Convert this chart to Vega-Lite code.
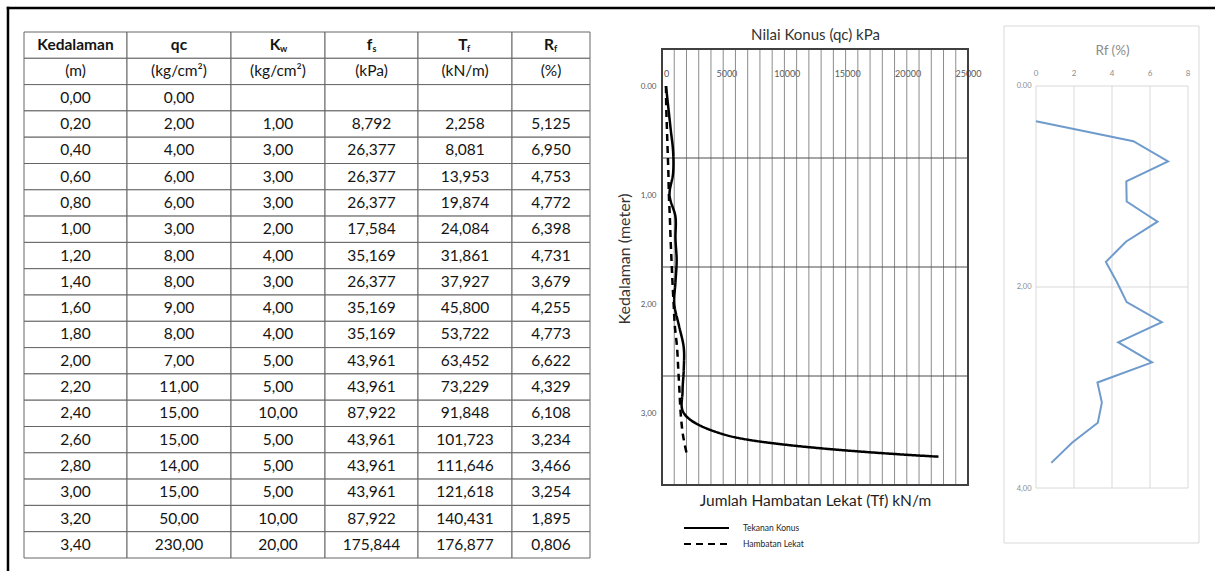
{
"$schema": "https://vega.github.io/schema/vega-lite/v6.json",
"padding": {"left": 5, "top": 5, "right": 0, "bottom": 0},
"background": "white",
"config": {"view": {"stroke": null}, "font": "Lato", "axis": {"labelFont": "Lato", "titleFont": "Lato"}, "legend": {"labelFont": "Lato"}},
"datasets": {
"tbl": [
{"r":0,"a":"Kedalaman","b":"qc","c":"K","d":"f","e":"T","f":"R"},
{"r":1,"a":"(m)","b":"(kg/cm²)","c":"(kg/cm²)","d":"(kPa)","e":"(kN/m)","f":"(%)"},
{"r":2,"a":"0,00","b":"0,00","c":"","d":"","e":"","f":""},
{"r":3,"a":"0,20","b":"2,00","c":"1,00","d":"8,792","e":"2,258","f":"5,125"},
{"r":4,"a":"0,40","b":"4,00","c":"3,00","d":"26,377","e":"8,081","f":"6,950"},
{"r":5,"a":"0,60","b":"6,00","c":"3,00","d":"26,377","e":"13,953","f":"4,753"},
{"r":6,"a":"0,80","b":"6,00","c":"3,00","d":"26,377","e":"19,874","f":"4,772"},
{"r":7,"a":"1,00","b":"3,00","c":"2,00","d":"17,584","e":"24,084","f":"6,398"},
{"r":8,"a":"1,20","b":"8,00","c":"4,00","d":"35,169","e":"31,861","f":"4,731"},
{"r":9,"a":"1,40","b":"8,00","c":"3,00","d":"26,377","e":"37,927","f":"3,679"},
{"r":10,"a":"1,60","b":"9,00","c":"4,00","d":"35,169","e":"45,800","f":"4,255"},
{"r":11,"a":"1,80","b":"8,00","c":"4,00","d":"35,169","e":"53,722","f":"4,773"},
{"r":12,"a":"2,00","b":"7,00","c":"5,00","d":"43,961","e":"63,452","f":"6,622"},
{"r":13,"a":"2,20","b":"11,00","c":"5,00","d":"43,961","e":"73,229","f":"4,329"},
{"r":14,"a":"2,40","b":"15,00","c":"10,00","d":"87,922","e":"91,848","f":"6,108"},
{"r":15,"a":"2,60","b":"15,00","c":"5,00","d":"43,961","e":"101,723","f":"3,234"},
{"r":16,"a":"2,80","b":"14,00","c":"5,00","d":"43,961","e":"111,646","f":"3,466"},
{"r":17,"a":"3,00","b":"15,00","c":"5,00","d":"43,961","e":"121,618","f":"3,254"},
{"r":18,"a":"3,20","b":"50,00","c":"10,00","d":"87,922","e":"140,431","f":"1,895"},
{"r":19,"a":"3,40","b":"230,00","c":"20,00","d":"175,844","e":"176,877","f":"0,806"}
],
"sondir": [
{"d":0,"qc_kpa":0,"tf":0,"rf":0},
{"d":0.2,"qc_kpa":196.1,"tf":2.258,"rf":5.125},
{"d":0.4,"qc_kpa":392.3,"tf":8.081,"rf":6.95},
{"d":0.6,"qc_kpa":588.4,"tf":13.953,"rf":4.753},
{"d":0.8,"qc_kpa":588.4,"tf":19.874,"rf":4.772},
{"d":1.0,"qc_kpa":294.2,"tf":24.084,"rf":6.398},
{"d":1.2,"qc_kpa":784.5,"tf":31.861,"rf":4.731},
{"d":1.4,"qc_kpa":784.5,"tf":37.927,"rf":3.679},
{"d":1.6,"qc_kpa":882.6,"tf":45.8,"rf":4.255},
{"d":1.8,"qc_kpa":784.5,"tf":53.722,"rf":4.773},
{"d":2.0,"qc_kpa":686.5,"tf":63.452,"rf":6.622},
{"d":2.2,"qc_kpa":1078.7,"tf":73.229,"rf":4.329},
{"d":2.4,"qc_kpa":1471.0,"tf":91.848,"rf":6.108},
{"d":2.6,"qc_kpa":1471.0,"tf":101.723,"rf":3.234},
{"d":2.8,"qc_kpa":1372.9,"tf":111.646,"rf":3.466},
{"d":3.0,"qc_kpa":1471.0,"tf":121.618,"rf":3.254},
{"d":3.2,"qc_kpa":4903.3,"tf":140.431,"rf":1.895},
{"d":3.4,"qc_kpa":22555.3,"tf":176.877,"rf":0.806}
]
},
"bounds": "flush",
"spacing": 0,
"hconcat": [
{"width": 103, "height": 526, "data": {"name": "tbl"},
 "encoding": {"y": {"field": "r", "type": "ordinal", "axis": null, "scale": {"paddingInner": 0, "paddingOuter": 0}}},
 "layer": [
  {"mark": {"type": "rect", "fill": "#ffffff", "stroke": "#666666", "strokeWidth": 1}},
  {"transform": [{"filter": "datum.r > 0"}], "mark": {"type": "text", "fontSize": 15.5, "color": "#141414"}, "encoding": {"text": {"field": "a"}}},
  {"transform": [{"filter": "datum.r == 0"}], "mark": {"type": "text", "fontSize": 15.5, "fontWeight": "bold", "color": "#141414"}, "encoding": {"text": {"field": "a"}}}
 ]},
{"width": 104, "height": 526, "data": {"name": "tbl"},
 "encoding": {"y": {"field": "r", "type": "ordinal", "axis": null, "scale": {"paddingInner": 0, "paddingOuter": 0}}},
 "layer": [
  {"mark": {"type": "rect", "fill": "#ffffff", "stroke": "#666666", "strokeWidth": 1}},
  {"transform": [{"filter": "datum.r > 0"}], "mark": {"type": "text", "fontSize": 15.5, "color": "#141414"}, "encoding": {"text": {"field": "b"}}},
  {"transform": [{"filter": "datum.r == 0"}], "mark": {"type": "text", "fontSize": 15.5, "fontWeight": "bold", "color": "#141414"}, "encoding": {"text": {"field": "b"}}}
 ]},
{"width": 94, "height": 526, "data": {"name": "tbl"},
 "encoding": {"y": {"field": "r", "type": "ordinal", "axis": null, "scale": {"paddingInner": 0, "paddingOuter": 0}}},
 "layer": [
  {"mark": {"type": "rect", "fill": "#ffffff", "stroke": "#666666", "strokeWidth": 1}},
  {"transform": [{"filter": "datum.r > 0"}], "mark": {"type": "text", "fontSize": 15.5, "color": "#141414"}, "encoding": {"text": {"field": "c"}}},
  {"transform": [{"filter": "datum.r == 0"}], "mark": {"type": "text", "fontSize": 15.5, "fontWeight": "bold", "color": "#141414", "dx": -3}, "encoding": {"text": {"field": "c"}}},
  {"transform": [{"filter": "datum.r == 0"}], "mark": {"type": "text", "text": "w", "fontSize": 9, "fontWeight": "bold", "color": "#141414", "align": "left", "dx": 2, "dy": 4}}
 ]},
{"width": 93, "height": 526, "data": {"name": "tbl"},
 "encoding": {"y": {"field": "r", "type": "ordinal", "axis": null, "scale": {"paddingInner": 0, "paddingOuter": 0}}},
 "layer": [
  {"mark": {"type": "rect", "fill": "#ffffff", "stroke": "#666666", "strokeWidth": 1}},
  {"transform": [{"filter": "datum.r > 0"}], "mark": {"type": "text", "fontSize": 15.5, "color": "#141414"}, "encoding": {"text": {"field": "d"}}},
  {"transform": [{"filter": "datum.r == 0"}], "mark": {"type": "text", "fontSize": 15.5, "fontWeight": "bold", "color": "#141414", "dx": -2}, "encoding": {"text": {"field": "d"}}},
  {"transform": [{"filter": "datum.r == 0"}], "mark": {"type": "text", "text": "s", "fontSize": 9, "fontWeight": "bold", "color": "#141414", "align": "left", "dx": 1, "dy": 4}}
 ]},
{"width": 94, "height": 526, "data": {"name": "tbl"},
 "encoding": {"y": {"field": "r", "type": "ordinal", "axis": null, "scale": {"paddingInner": 0, "paddingOuter": 0}}},
 "layer": [
  {"mark": {"type": "rect", "fill": "#ffffff", "stroke": "#666666", "strokeWidth": 1}},
  {"transform": [{"filter": "datum.r > 0"}], "mark": {"type": "text", "fontSize": 15.5, "color": "#141414"}, "encoding": {"text": {"field": "e"}}},
  {"transform": [{"filter": "datum.r == 0"}], "mark": {"type": "text", "fontSize": 15.5, "fontWeight": "bold", "color": "#141414", "dx": -2}, "encoding": {"text": {"field": "e"}}},
  {"transform": [{"filter": "datum.r == 0"}], "mark": {"type": "text", "text": "f", "fontSize": 9, "fontWeight": "bold", "color": "#141414", "align": "left", "dx": 2, "dy": 4}}
 ]},
{"width": 78, "height": 526, "data": {"name": "tbl"},
 "encoding": {"y": {"field": "r", "type": "ordinal", "axis": null, "scale": {"paddingInner": 0, "paddingOuter": 0}}},
 "layer": [
  {"mark": {"type": "rect", "fill": "#ffffff", "stroke": "#666666", "strokeWidth": 1}},
  {"transform": [{"filter": "datum.r > 0"}], "mark": {"type": "text", "fontSize": 15.5, "color": "#141414"}, "encoding": {"text": {"field": "f"}}},
  {"transform": [{"filter": "datum.r == 0"}], "mark": {"type": "text", "fontSize": 15.5, "fontWeight": "bold", "color": "#141414", "dx": -2}, "encoding": {"text": {"field": "f"}}},
  {"transform": [{"filter": "datum.r == 0"}], "mark": {"type": "text", "text": "f", "fontSize": 9, "fontWeight": "bold", "color": "#141414", "align": "left", "dx": 3, "dy": 4}}
 ]},
{"width": 72, "height": 10, "data": {"values": [{}]}, "mark": {"type": "text", "text": ""}},
{
"width": 306, "height": 453,
"layer": [
 {
 "layer": [
  {"data": {"values": [{"g":-330},{"g":683},{"g":1696},{"g":2710},{"g":3723},{"g":4736},{"g":5749},{"g":6762},{"g":7776},{"g":8789},{"g":9802},{"g":10815},{"g":11828},{"g":12842},{"g":13855},{"g":14868},{"g":15881},{"g":16894},{"g":17908},{"g":18921},{"g":19934},{"g":20947},{"g":21960},{"g":22974},{"g":23987},{"g":25000}]},
   "mark": {"type": "rule", "color": "#8c8c8c", "strokeWidth": 1},
   "encoding": {
    "x": {"field": "g", "type": "quantitative", "scale": {"domain": [-330, 25000], "nice": false, "zero": false},
      "axis": {"orient": "top", "values": [0, 5000, 10000, 15000, 20000, 25000], "format": "d", "offset": -54, "domain": false, "ticks": false, "grid": false, "labelFontSize": 9, "labelColor": "#595959", "labelPadding": 8, "labelFlush": false, "labelOverlap": false, "title": "Nilai Konus (qc) kPa", "titleFontSize": 15, "titleFontWeight": "normal", "titleColor": "#333333", "titlePadding": 27}},
    "y": {"datum": -0.34, "type": "quantitative"},
    "y2": {"datum": 3.66}
   }},
  {"data": {"values": [{"h":-0.34},{"h":0.66},{"h":1.66},{"h":2.66},{"h":3.66}]},
   "mark": {"type": "rule", "color": "#4d4d4d", "strokeWidth": 1},
   "encoding": {
    "y": {"field": "h", "type": "quantitative"},
    "x": {"datum": -330, "type": "quantitative"},
    "x2": {"datum": 25000}
   }},
  {"data": {"values": [{}]},
   "mark": {"type": "rect", "filled": false, "color": "#404040", "strokeWidth": 2},
   "encoding": {
    "x": {"datum": -330, "type": "quantitative"}, "x2": {"datum": 25000},
    "y": {"datum": -0.34, "type": "quantitative"}, "y2": {"datum": 3.66}
   }},
  {"data": {"values": [{}]},
   "mark": {"type": "rule", "color": "#000000", "strokeWidth": 2.5},
   "encoding": {
    "x": {"datum": -54571, "type": "quantitative"}, "x2": {"datum": 45446},
    "y": {"datum": -0.71618, "type": "quantitative"}
   }},
  {"data": {"values": [{}]},
   "mark": {"type": "rule", "color": "#000000", "strokeWidth": 2.5},
   "encoding": {
    "x": {"datum": -54467, "type": "quantitative"},
    "y": {"datum": -0.72766, "type": "quantitative"}, "y2": {"datum": 4.44895}
   }},
  {"data": {"name": "sondir"},
   "mark": {"type": "line", "color": "#000000", "strokeWidth": 2.5, "interpolate": "catmull-rom"},
   "encoding": {
    "x": {"field": "qc_kpa", "type": "quantitative"},
    "y": {"field": "d", "type": "quantitative", "scale": {"domain": [-0.496, 3.66], "reverse": true, "nice": false, "zero": false},
      "axis": {"values": [0, 1, 2, 3], "labelExpr": "datum.value == 0 ? '0.00' : replace(format(datum.value, '.2f'), '.', ',')", "domain": false, "ticks": false, "grid": false, "labelFontSize": 8, "labelColor": "#595959", "labelPadding": 6, "title": "Kedalaman (meter)", "titleFontSize": 16, "titleFontWeight": "normal", "titleColor": "#333333", "titlePadding": 8}},
    "order": {"field": "d"},
    "strokeDash": {"datum": "Tekanan Konus", "type": "nominal",
      "scale": {"domain": ["Tekanan Konus", "Hambatan Lekat"], "range": [[1, 0], [7, 5]]},
      "legend": {"orient": "none", "legendX": 659, "legendY": 491, "direction": "vertical", "title": null, "symbolType": "stroke", "symbolSize": 2025, "symbolStrokeWidth": 2, "symbolStrokeColor": "#000000", "labelFontSize": 8.5, "labelColor": "#262626", "labelOffset": 13, "rowPadding": 6, "clipHeight": 10}}
   }}
 ]
 },
 {"data": {"name": "sondir"},
  "mark": {"type": "line", "color": "#000000", "strokeWidth": 2.5, "interpolate": "catmull-rom"},
  "encoding": {
   "x": {"field": "tf", "type": "quantitative", "scale": {"domain": [-33, 2500], "nice": false, "zero": false},
     "axis": {"orient": "bottom", "labels": false, "ticks": false, "domain": false, "grid": false, "title": "Jumlah Hambatan Lekat (Tf) kN/m", "titleFontSize": 15.5, "titleFontWeight": "normal", "titleColor": "#1f1f1f", "titlePadding": 8}},
   "y": {"field": "d", "type": "quantitative"},
   "order": {"field": "d"},
   "strokeDash": {"datum": "Hambatan Lekat", "type": "nominal"}
  }}
],
"resolve": {"scale": {"x": "independent"}, "axis": {"x": "independent"}}
},
{"width": 68, "height": 10, "data": {"values": [{}]}, "mark": {"type": "text", "text": ""}},
{
"width": 152, "height": 511,
"layer": [
 {"data": {"values": [{}]},
  "mark": {"type": "rect", "filled": false, "color": "#d9d9d9", "strokeWidth": 1},
  "encoding": {
   "x": {"datum": -1.684, "type": "quantitative", "scale": {"domain": [0, 8], "nice": false, "zero": false},
     "axis": {"orient": "top", "offset": -54, "labels": false, "domain": false, "ticks": false, "grid": false, "title": "Rf (%)", "titleFontSize": 13.5, "titleFontWeight": "normal", "titleColor": "#8c8c8c", "titlePadding": 29}},
   "x2": {"datum": 8.579},
   "y": {"datum": -0.947, "type": "quantitative", "scale": {"domain": [-0.887, 4.197], "reverse": true, "nice": false, "zero": false},
     "axis": {"values": [-0.35, 1.65, 3.65], "labelExpr": "datum.value < 0 ? '0.00' : replace(format(datum.value + 0.35, '.2f'), '.', ',')", "domain": false, "ticks": false, "grid": false, "labelFontSize": 7.5, "labelColor": "#8c8c8c", "labelPadding": 5, "title": null}},
   "y2": {"datum": 4.197}
  }},
 {"data": {"values": [{"v":0},{"v":2},{"v":4},{"v":6},{"v":8}]},
  "mark": {"type": "rule", "color": "#d9d9d9", "strokeWidth": 1},
  "encoding": {
   "x": {"field": "v", "type": "quantitative"},
   "y": {"datum": -0.35, "type": "quantitative"}, "y2": {"datum": 3.65}
  }},
 {"data": {"values": [{"v":0},{"v":2},{"v":4},{"v":6},{"v":8}]},
  "mark": {"type": "text", "fontSize": 8, "color": "#8c8c8c", "baseline": "middle"},
  "encoding": {
   "x": {"field": "v", "type": "quantitative"},
   "y": {"datum": -0.47, "type": "quantitative"},
   "text": {"field": "v", "type": "quantitative", "format": "d"}
  }},
 {"data": {"values": [{"h":-0.35},{"h":1.65},{"h":3.65}]},
  "mark": {"type": "rule", "color": "#d9d9d9", "strokeWidth": 1},
  "encoding": {
   "y": {"field": "h", "type": "quantitative"},
   "x": {"datum": 0, "type": "quantitative"}, "x2": {"datum": 8}
  }},
 {"data": {"name": "sondir"},
  "mark": {"type": "line", "color": "#6f9bcc", "strokeWidth": 2},
  "encoding": {
   "x": {"field": "rf", "type": "quantitative"},
   "y": {"field": "d", "type": "quantitative"},
   "order": {"field": "d"}
  }}
]
}
]
}
